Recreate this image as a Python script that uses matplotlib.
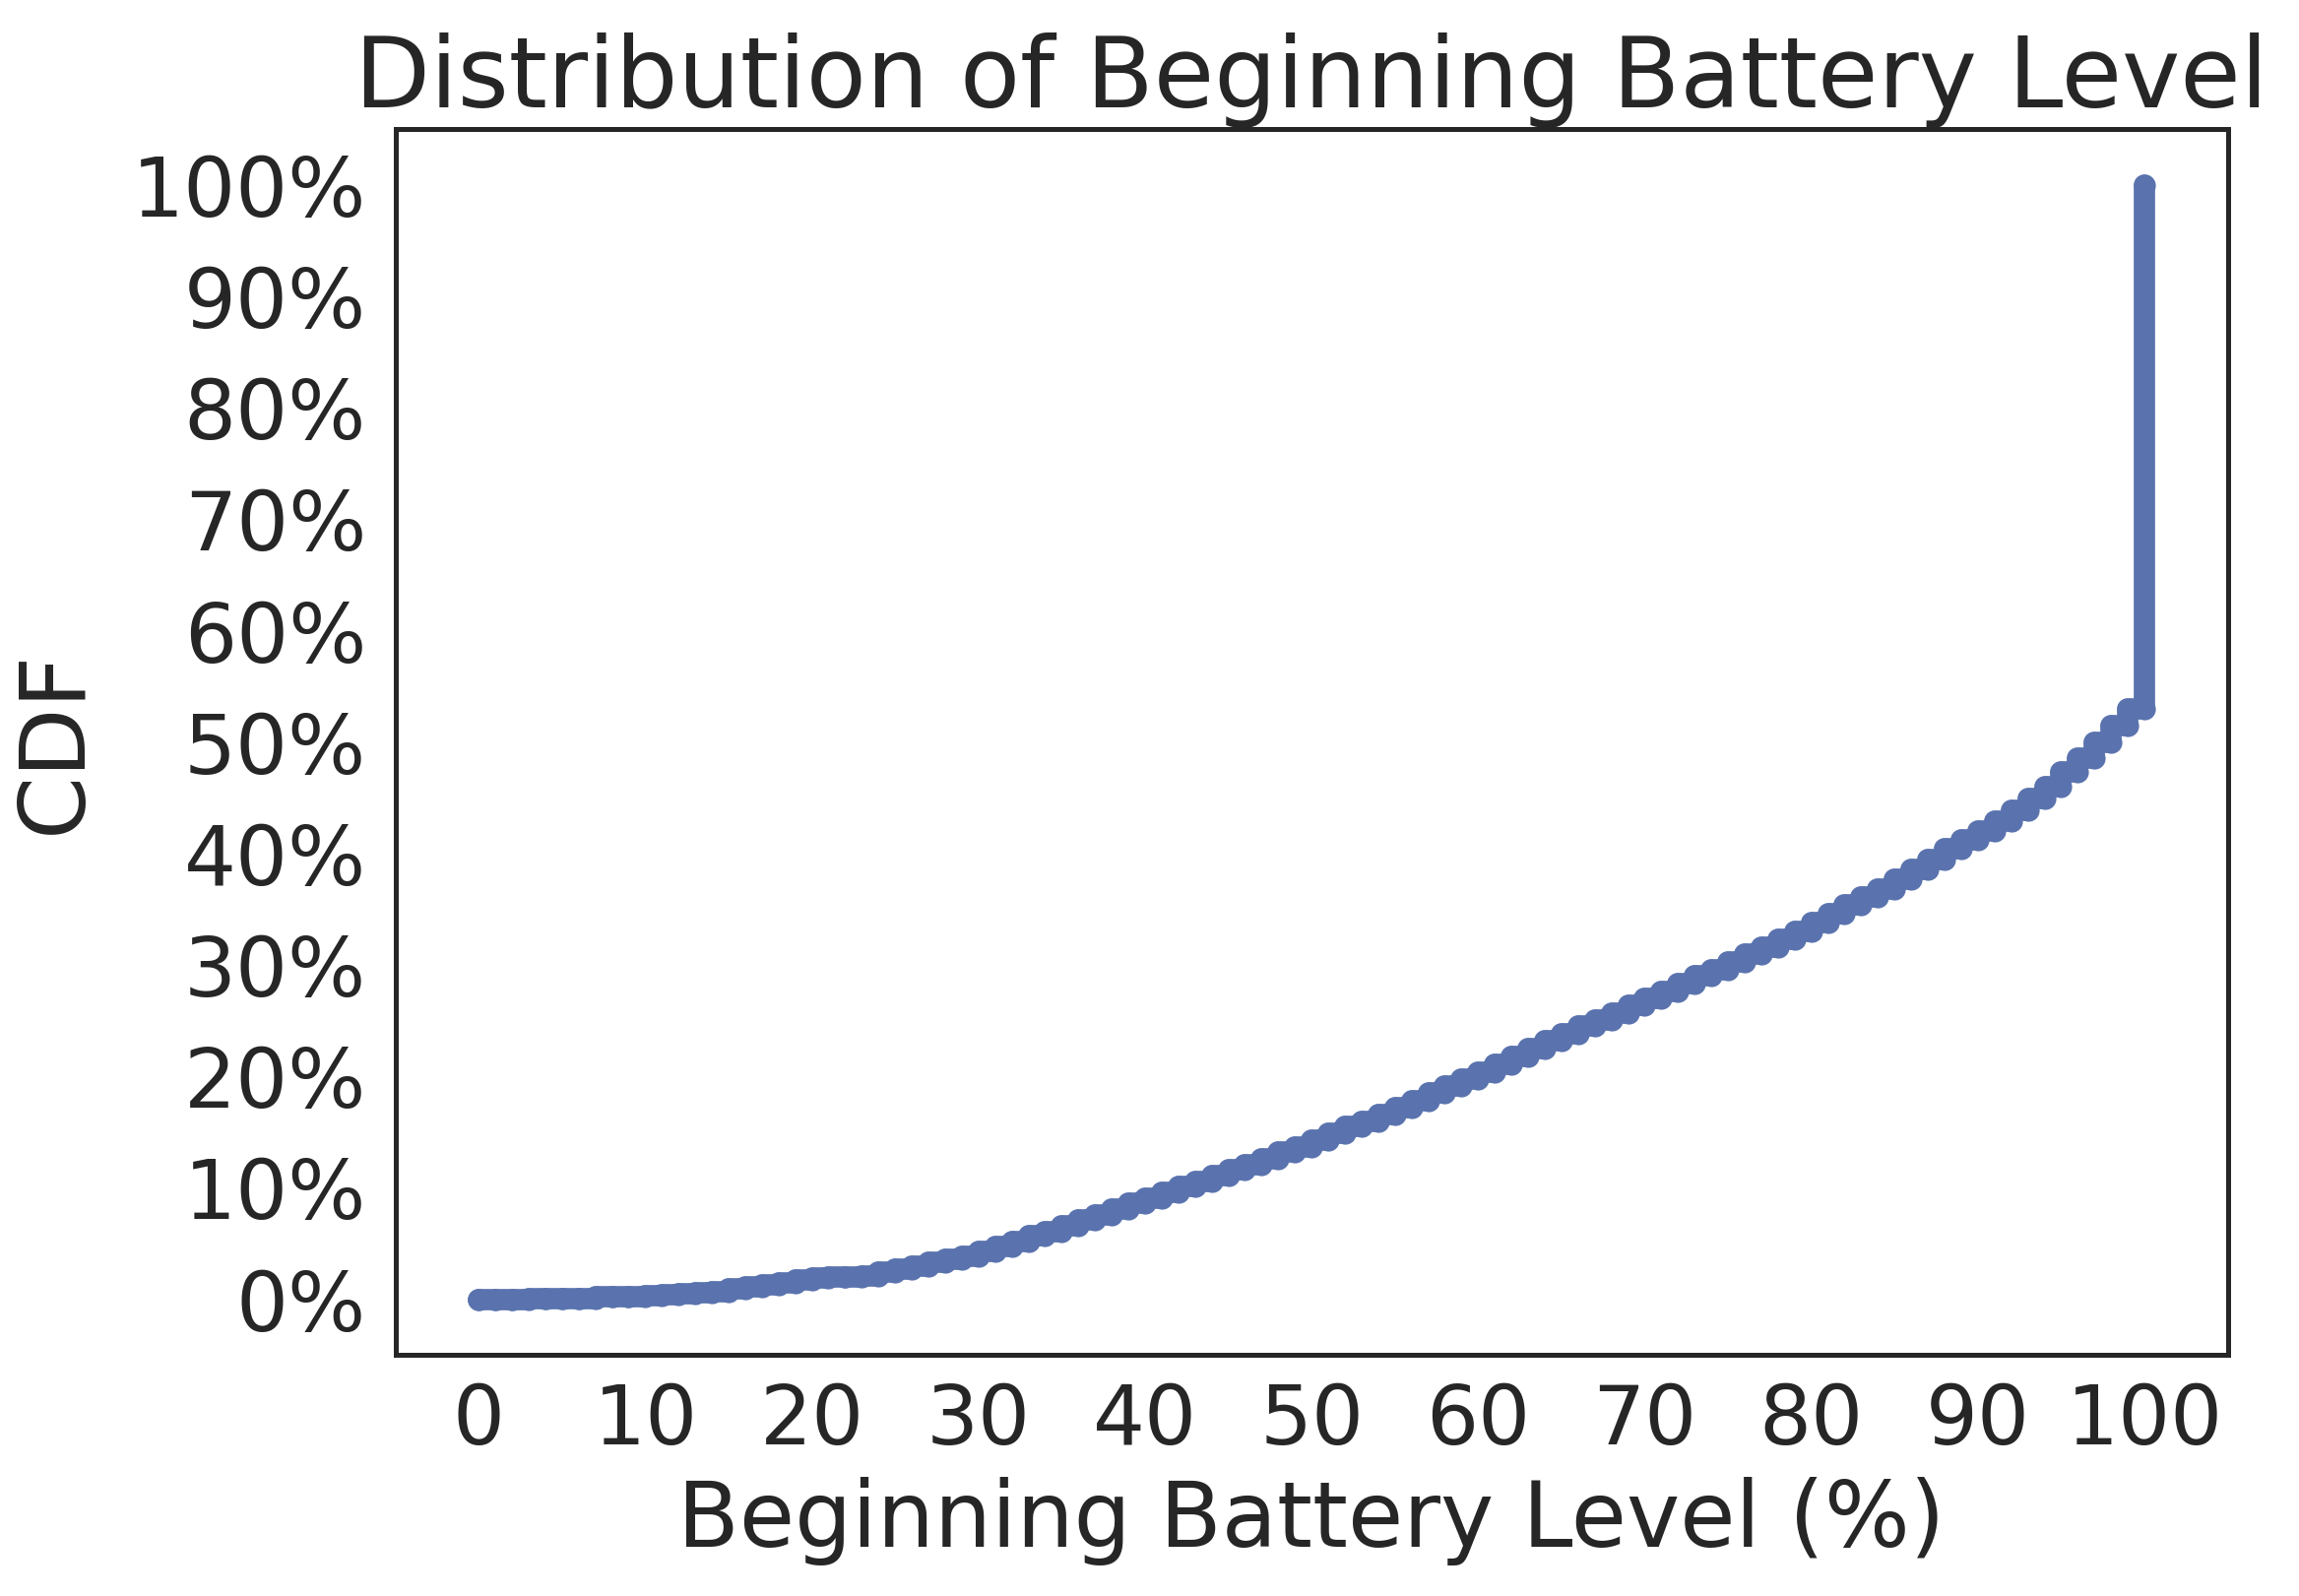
import matplotlib

matplotlib.use("Agg")
import matplotlib.pyplot as plt
import numpy as np
import seaborn as sns
from matplotlib.ticker import PercentFormatter


# battery level (%) and cumulative share of sessions (%) at that level
battery_levels = list(range(0, 101))
cdf_percent = [
    0.0, 0.0, 0.0, 0.1, 0.1, 0.1, 0.1, 0.2, 0.2, 0.2,
    0.3, 0.4, 0.5, 0.6, 0.7, 0.9, 1.1, 1.3, 1.5, 1.7,
    1.9, 2.0, 2.0, 2.1, 2.4, 2.7, 3.0, 3.3, 3.6, 3.9,
    4.3, 4.7, 5.2, 5.7, 6.1, 6.6, 7.1, 7.6, 8.1, 8.6,
    9.1, 9.6, 10.1, 10.6, 11.1, 11.6, 12.1, 12.6, 13.2, 13.7,
    14.3, 14.9, 15.5, 16.0, 16.6, 17.2, 17.8, 18.5, 19.1, 19.8,
    20.4, 21.1, 21.8, 22.5, 23.2, 23.8, 24.5, 25.1, 25.7, 26.4,
    27.0, 27.6, 28.3, 29.0, 29.6, 30.3, 31.0, 31.6, 32.3, 33.0,
    33.8, 34.6, 35.4, 36.1, 36.8, 37.7, 38.6, 39.5, 40.4, 41.2,
    42.0, 42.9, 43.9, 44.9, 46.0, 47.3, 48.6, 50.0, 51.5, 53.0,
    100.0,
]
x_ticks = list(range(0, 101, 10))
y_ticks = list(range(0, 101, 10))

sns.set_theme(style="white")
plt.rcParams["font.family"] = ["DejaVu Sans"]
plt.rcParams["text.color"] = "#262626"
plt.rcParams["axes.labelcolor"] = "#262626"
plt.rcParams["xtick.color"] = "#262626"
plt.rcParams["ytick.color"] = "#262626"

# each level is a short vertical run from the previous cdf value to its own
levels = np.array(battery_levels, dtype=float)
cdf = np.array(cdf_percent)
prev = np.concatenate([[cdf[0]], cdf[:-1]])
x_path = np.repeat(levels, 2)
y_path = np.column_stack([prev, cdf]).ravel()

figure = plt.figure(figsize=(11.675, 8.105), dpi=200)
axis = figure.add_axes([0.172, 0.151, 0.797, 0.768])
axis.plot(
    x_path,
    y_path,
    color="#5a73ae",
    linewidth=7.8,
    marker="o",
    markersize=8.0,
    markeredgewidth=0,
    solid_capstyle="round",
)

axis.set_xticks(x_ticks)
axis.set_yticks(y_ticks)
axis.yaxis.set_major_formatter(PercentFormatter(100, decimals=0))
axis.tick_params(axis="both", labelsize=30)
axis.tick_params(axis="x", pad=3.5)
axis.tick_params(axis="y", pad=4.6)
axis.set_xlabel("Beginning Battery Level (%)", fontsize=33, labelpad=6)
axis.set_ylabel("CDF", fontsize=33, labelpad=12)
axis.set_title("Distribution of Beginning Battery Level", fontsize=36, pad=8)
for spine in axis.spines.values():
    spine.set_color("#262626")
    spine.set_linewidth(1.8)

figure.savefig("out.png", dpi=200)
